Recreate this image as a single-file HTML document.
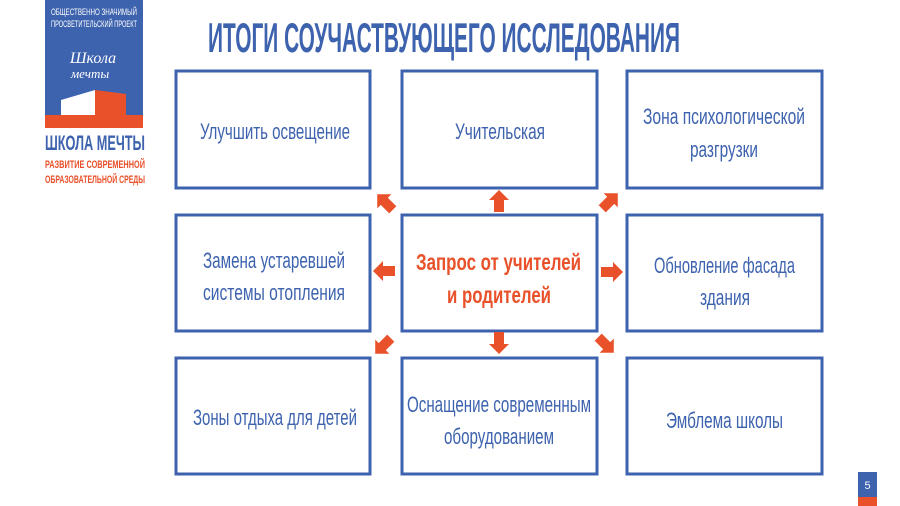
<!DOCTYPE html>
<html><head><meta charset="utf-8"><style>html,body{margin:0;padding:0;background:#fff}svg{display:block}</style></head>
<body>
<svg width="900" height="506" viewBox="0 0 900 506" xmlns="http://www.w3.org/2000/svg" font-family="'Liberation Sans', 'Noto Sans CJK SC', sans-serif">
<rect width="900" height="506" fill="#fff"/>
<!-- logo -->
<rect x="45" y="0" width="98" height="128" fill="#3d62ae"/>
<text x="94" y="15" fill="#fff" font-size="9" text-anchor="middle" textLength="86" lengthAdjust="spacingAndGlyphs">ОБЩЕСТВЕННО ЗНАЧИМЫЙ</text>
<text x="94" y="27" fill="#fff" font-size="9" text-anchor="middle" textLength="86" lengthAdjust="spacingAndGlyphs">ПРОСВЕТИТЕЛЬСКИЙ ПРОЕКТ</text>
<text x="93" y="63" fill="#fff" font-size="16" font-style="italic" text-anchor="middle" font-family="'Liberation Serif', serif">Школа</text>
<text x="90" y="78" fill="#fff" font-size="13" font-style="italic" text-anchor="middle" font-family="'Liberation Serif', serif">мечты</text>
<polygon points="61,100 95,90 95,115 61,115" fill="#fff"/>
<polygon points="95,90 126,94 126,115 95,115" fill="#e8512a"/>
<rect x="45" y="115" width="98" height="13" fill="#e8512a"/>
<text x="95" y="150" fill="#3d62ae" font-size="21" font-weight="bold" text-anchor="middle" textLength="100" lengthAdjust="spacingAndGlyphs">ШКОЛА МЕЧТЫ</text>
<text x="95" y="168" fill="#e8512a" font-size="11" font-weight="bold" text-anchor="middle" textLength="100" lengthAdjust="spacingAndGlyphs">РАЗВИТИЕ СОВРЕМЕННОЙ</text>
<text x="95" y="183" fill="#e8512a" font-size="11" font-weight="bold" text-anchor="middle" textLength="100" lengthAdjust="spacingAndGlyphs">ОБРАЗОВАТЕЛЬНОЙ СРЕДЫ</text>
<!-- title -->
<text x="208" y="52" fill="#3d62ae" font-size="42" font-weight="bold" textLength="472" lengthAdjust="spacingAndGlyphs">ИТОГИ СОУЧАСТВУЮЩЕГО ИССЛЕДОВАНИЯ</text>
<!-- boxes -->
<g fill="none" stroke="#3d62ae" stroke-width="3">
<rect x="176" y="71" width="194" height="117"/>
<rect x="402" y="71" width="195" height="117"/>
<rect x="627" y="71" width="195" height="117"/>
<rect x="176" y="215" width="194" height="116"/>
<rect x="402" y="215" width="195" height="116"/>
<rect x="627" y="215" width="195" height="116"/>
<rect x="176" y="358" width="194" height="116"/>
<rect x="402" y="358" width="195" height="116"/>
<rect x="627" y="358" width="195" height="116"/>
</g>
<g fill="#3d62ae" font-size="22">
<text x="200" y="139" textLength="150" lengthAdjust="spacingAndGlyphs">Улучшить освещение</text>
<text x="455" y="139" textLength="90" lengthAdjust="spacingAndGlyphs">Учительская</text>
<text x="643" y="124" textLength="162" lengthAdjust="spacingAndGlyphs">Зона психологической</text>
<text x="690" y="157" textLength="68" lengthAdjust="spacingAndGlyphs">разгрузки</text>
<text x="203" y="268" textLength="142" lengthAdjust="spacingAndGlyphs">Замена устаревшей</text>
<text x="203" y="300" textLength="142" lengthAdjust="spacingAndGlyphs">системы отопления</text>
<text x="654" y="273" textLength="141" lengthAdjust="spacingAndGlyphs">Обновление фасада</text>
<text x="700" y="305" textLength="50" lengthAdjust="spacingAndGlyphs">здания</text>
<text x="193" y="425" textLength="164" lengthAdjust="spacingAndGlyphs">Зоны отдыха для детей</text>
<text x="407" y="412" textLength="184" lengthAdjust="spacingAndGlyphs">Оснащение современным</text>
<text x="444" y="444" textLength="110" lengthAdjust="spacingAndGlyphs">оборудованием</text>
<text x="666" y="428" textLength="117" lengthAdjust="spacingAndGlyphs">Эмблема школы</text>
</g>
<g fill="#e8512a" font-size="23" font-weight="bold">
<text x="416" y="270" textLength="165" lengthAdjust="spacingAndGlyphs">Запрос от учителей</text>
<text x="447" y="303" textLength="104" lengthAdjust="spacingAndGlyphs">и родителей</text>
</g>
<!-- arrows -->
<defs><polygon id="ar" points="0,-11 10,-1 5,-1 5,11 -5,11 -5,-1 -10,-1" fill="#e8512a"/></defs>
<use href="#ar" transform="translate(499,201)"/>
<use href="#ar" transform="translate(499,343) rotate(180)"/>
<use href="#ar" transform="translate(384,271) rotate(-90)"/>
<use href="#ar" transform="translate(612,272) rotate(90)"/>
<use href="#ar" transform="translate(385,202) rotate(-45)"/>
<use href="#ar" transform="translate(610,201) rotate(45)"/>
<use href="#ar" transform="translate(383,346) rotate(-135)"/>
<use href="#ar" transform="translate(606,345) rotate(135)"/>
<!-- page number -->
<rect x="858" y="472" width="19" height="25" fill="#3d62ae"/>
<rect x="858" y="497" width="19" height="9" fill="#e8512a"/>
<text x="867.5" y="489" fill="#fff" font-size="11" text-anchor="middle">5</text>
</svg>
</body></html>
